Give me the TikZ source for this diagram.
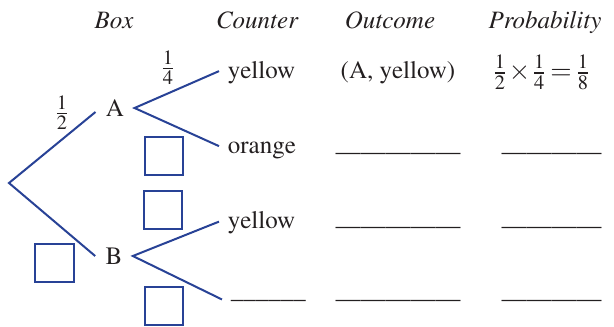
\documentclass[tikz,border=0pt]{standalone}
\usepackage[T1]{fontenc}
\usepackage{mathptmx}
\nulldelimiterspace=0pt
\definecolor{treeblue}{RGB}{40,66,150}
\definecolor{inkgray}{RGB}{35,31,32}
\tikzset{
    branch/.style={draw=treeblue, line width=0.8pt},
    ansbox/.style={draw=treeblue, line width=0.8pt, minimum size=15.2pt, inner sep=0pt},
    letter/.style={inner sep=4pt},
    head/.style={anchor=base, font=\itshape},
    counter/.style={anchor=base west, text height=0.75em, text depth=0.2em},
    prob/.style={font=\fontsize{11}{13}\selectfont}
}

\begin{document}
\begin{tikzpicture}[x=0.4pt, y=-0.4pt, color=inkgray]
\useasboundingbox (0,0) rectangle (614,327);

\node[head] (hbox) at (114,28) {Box};
\node[head] (hcounter) at (257,28) {Counter};
\node[head] (houtcome) at (390,28) {Outcome};
\node[head] (hprob) at (545,28) {Probability};

\coordinate (root) at (9,183);
\node[letter] (a) at (115,108) {A};
\node[letter] (b) at (114,256) {B};

\node[counter] (ay) at (219,78) {yellow};
\node[counter] (ao) at (219,153) {orange};
\node[counter] (by) at (219,228.5) {yellow};
\node[anchor=base west] (bo) at (222,298) {\_\_\_\_\_\_};

\draw[branch] ([yshift=-1.6pt]a.west) -- (root) -- (b.west);
\draw[branch] (ay.west) -- (a.east) -- (ao.west);
\draw[branch] (by.west) -- (b.east) -- (bo.west);

\node[prob] (pa) at (62,113) {$\frac{1}{2}$};
\node[prob] (pay) at (168,68) {$\frac{1}{4}$};

\node[ansbox] (boxao) at (163.5,156) {};
\node[ansbox] (boxby) at (163,209.5) {};
\node[ansbox] (boxb) at (54.5,262.5) {};
\node[ansbox] (boxbo) at (163.5,306) {};

\node[anchor=base] (outay) at (398,78) {(A, yellow)};
\node[anchor=base] (outao) at (398,151) {\_\_\_\_\_\_\_\_\_\_};
\node[anchor=base] (outby) at (398,225) {\_\_\_\_\_\_\_\_\_\_};
\node[anchor=base] (outbo) at (398,298) {\_\_\_\_\_\_\_\_\_\_};

\node[prob] (prav) at (541.5,72.5) {$\frac{1}{2}\times\frac{1}{4}=\frac{1}{8}$};
\node[anchor=base] (prao) at (551.5,151) {\_\_\_\_\_\_\_\_};
\node[anchor=base] (prby) at (551.5,225) {\_\_\_\_\_\_\_\_};
\node[anchor=base] (prbo) at (551.5,298) {\_\_\_\_\_\_\_\_};
\end{tikzpicture}
\end{document}
